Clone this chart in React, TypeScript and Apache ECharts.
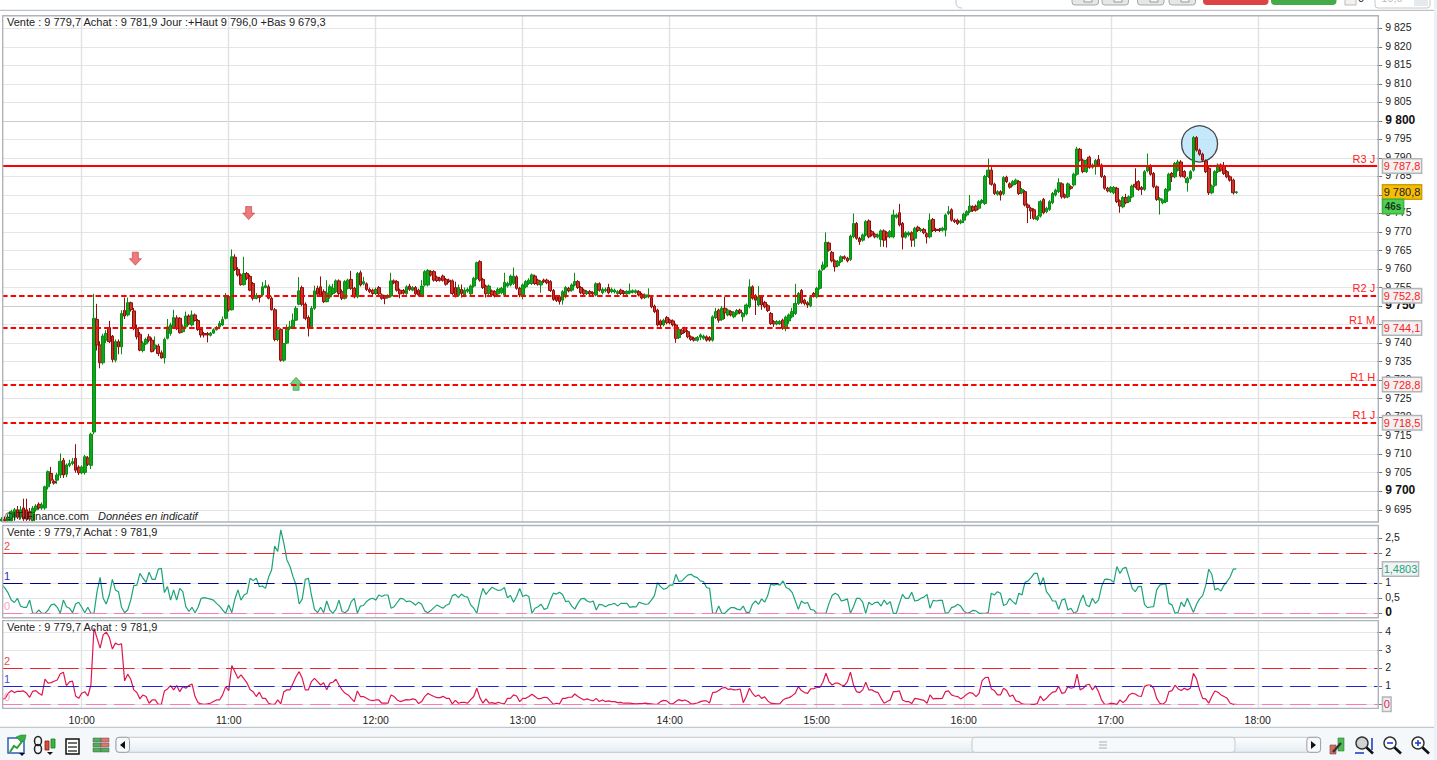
import React, { useEffect, useRef } from "react";
import * as echarts from "echarts";

// [open, close, low, high]
const candlesBefore10 = [
[9692,9692.5,9691.8,9693],[9692.5,9692,9691.8,9693.2],[9692,9693,9691.8,9693.5],[9692,9694.5,9691.8,9695],[9693,9695,9692,9695.5],[9695,9693,9692.5,9696],[9693,9695,9692.5,9696],[9695.5,9692.5,9692,9698],[9695,9692.5,9692,9698],[9694.5,9692.5,9692,9695.5],
[9692,9695.4,9691.8,9696],[9695,9696,9694.5,9696.5],[9696.5,9695.5,9695,9697],[9695.5,9696.3,9695,9697],[9695.5,9701.2,9695,9701.5],[9701.2,9705.3,9700.5,9705.6],[9704.8,9703,9702,9706.6],[9702.7,9702.2,9701.8,9703.2],[9703,9704.4,9702,9705],[9704.4,9708.1,9703.6,9710.2],
[9708.4,9704.4,9703.6,9709],[9704.6,9707.1,9703.8,9707.5],[9707,9707.5,9706.5,9708.5],[9707.5,9708,9707,9709],[9708.9,9705.7,9705,9712.7],[9706.5,9705,9704.4,9707],
];
const candles10h = [
[9705,9706.5,9704.6,9707],[9705.1,9709.3,9704.5,9709.8],[9709,9707.3,9706.8,9709.5],[9707,9715.4,9706,9715.8],[9716,9746.7,9715.4,9753.3],[9746.4,9739.5,9738,9750.6],[9739.5,9734.7,9733.2,9740.5],[9734.7,9741.9,9734.2,9742.5],[9740.8,9742.6,9740,9743.5],[9744.2,9740.4,9740,9746],
[9741.9,9735.6,9734.8,9742.2],[9735.4,9740.4,9734.8,9741],[9740.4,9739,9737,9741],[9739,9748,9737,9748.9],[9748.8,9747.3,9746.5,9752.3],[9747.6,9750.9,9747.2,9752.3],[9750.9,9749,9748.5,9751.2],[9748.7,9744,9743.5,9749.5],[9744,9741.7,9741,9745],[9742.4,9738.1,9737.8,9743],
[9738,9740,9737.5,9740.5],[9739.8,9741,9739.5,9741.5],[9741.7,9740.8,9740.2,9742.5],[9740.8,9737.7,9737.5,9741.5],[9738.5,9739.5,9738,9741.8],[9739.2,9737.2,9736.5,9739.8],[9737.4,9736,9735.8,9738],[9736,9741,9734.5,9741.5],[9741.3,9744.4,9741,9746.5],[9742.6,9744.9,9742,9745.5],
[9744.2,9746.9,9743.8,9749],[9746.8,9743.9,9743.5,9747.5],[9746.7,9742.8,9742.6,9747],[9743.1,9744.4,9742.8,9745],[9744.4,9747.3,9744,9748.5],[9747.3,9745.2,9744.8,9747.8],[9744.9,9747.6,9744.5,9748.8],[9747.6,9746.1,9745.8,9748],[9746.1,9743.7,9743.3,9746.5],[9743.7,9742.2,9741.5,9744],
[9742.6,9742.2,9741.5,9743],[9742.6,9742.2,9740.2,9743],[9742.1,9742.7,9741.8,9743],[9742.7,9743.6,9742.5,9744],[9743.6,9744.2,9743.4,9744.6],[9744.4,9745.3,9744.2,9746],[9744.9,9746.4,9744.6,9747.2],[9746.7,9752.5,9746.4,9753.5],
];
const candles11h = [
[9752.5,9749,9748.5,9753],[9749,9763.3,9748.8,9765.3],[9763.2,9759.9,9759.5,9764],[9759.9,9758.4,9758,9760.5],[9758.4,9755.8,9755.5,9758.8],[9755.8,9758.8,9755.5,9763.3],[9758.8,9757.5,9757,9759.2],[9758,9754.3,9754,9758.5],[9756.1,9752.1,9751.5,9756.5],[9752.1,9752.8,9751.8,9753.5],
[9752.5,9752.3,9751,9753],[9753,9755.2,9752.8,9756.5],[9755,9755.5,9754.8,9757],[9755.2,9752.1,9751.8,9755.8],[9752.1,9749,9748.8,9752.6],[9749,9741,9740.5,9749.5],[9741,9743.5,9740.5,9744],[9743.7,9735.4,9735,9744],[9735.4,9739.9,9735,9740],[9740,9744,9739.8,9745],
[9744,9744.4,9743.5,9746],[9744,9746.2,9743.8,9748],[9746.2,9749.4,9746,9750],[9750.5,9754.1,9750.2,9757.8],[9755,9750.5,9750,9755.5],[9750.5,9746.7,9746.2,9751],[9746.9,9744,9741.8,9747.5],[9744,9749.4,9743.8,9750],[9749.4,9754.1,9749,9755.5],[9754.8,9753.2,9752.8,9755.5],
[9755.2,9753,9752.8,9758],[9753.9,9751.2,9750.8,9754.5],[9751.2,9753.5,9751,9757],[9752.5,9755.2,9752,9755.8],[9753.4,9754.8,9753,9756],[9753.9,9756.8,9753.5,9757.2],[9756.8,9753.4,9753,9757.2],[9753.9,9752.1,9751.6,9754.5],[9752.1,9756.6,9751.8,9757],[9754.8,9757,9754.5,9757.4],
[9757.2,9754.8,9754.4,9759.5],[9754.8,9752.5,9752.1,9755.2],[9752.5,9758.8,9752.1,9759.2],[9759,9755.7,9755.3,9759.6],[9756,9756.6,9755.6,9757.9],[9756,9754.5,9754.1,9756.4],[9754.5,9753.9,9753.5,9755],[9754.3,9753.4,9753,9754.7],
];
const candles12h = [
[9753.4,9754.5,9753,9755],[9755,9753.3,9752.9,9755.4],[9753,9752.1,9751.7,9753.4],[9752.7,9752.1,9750.5,9753],[9752.3,9752.8,9752,9753.2],[9752.7,9756.8,9752.3,9759],[9756.8,9756.3,9755.9,9757.2],[9756.6,9754.3,9753.9,9757],[9754.3,9753.3,9752.1,9754.7],[9754.2,9753.5,9753.1,9754.6],
[9753.4,9755.2,9753,9755.6],[9755.4,9754.5,9754.1,9756],[9754.3,9755,9754,9755.4],[9755,9753.3,9752.9,9755.4],[9754.3,9753,9752.6,9754.7],[9753,9755.4,9752.6,9757],[9755.7,9759.3,9755.3,9759.7],[9755.7,9759.6,9755.3,9760],[9759.3,9758.4,9758,9759.7],[9759.3,9757,9756.6,9759.7],
[9757.8,9756.9,9756.5,9758.2],[9757.5,9757,9756.6,9757.9],[9758.1,9757,9756.6,9758.5],[9757.2,9755.9,9755.5,9757.6],[9757,9756.6,9756.2,9757.4],[9756.8,9753.4,9753,9757.2],[9755,9752.7,9752.3,9756.6],[9752.9,9755,9752.5,9755.8],[9754.5,9753.4,9752.3,9755.8],[9753,9754.3,9752.4,9755],
[9754,9754.5,9753.6,9755],[9753.3,9755.4,9752.9,9755.8],[9755.4,9757.5,9755,9757.9],[9757.5,9761.7,9757.1,9762],[9762,9757,9756.6,9762.4],[9757.2,9755,9754.6,9757.6],[9755.4,9753.3,9752.3,9755.8],[9753.4,9755.4,9753,9755.8],[9754.1,9753,9752.6,9754.5],[9753.9,9752.7,9752.3,9754.3],
[9753.3,9754.5,9752.9,9755],[9753.6,9754.8,9753.2,9755.2],[9753,9756.4,9752.6,9759],[9755.4,9756.1,9755,9756.6],[9755.7,9758.1,9755.3,9758.5],[9756.1,9758.1,9755.7,9760.4],[9757.9,9754.8,9754.4,9758.3],[9754.8,9753,9752.4,9755.2],
];
const candles13h = [
[9753,9755.7,9751.8,9756.1],[9755.2,9756.6,9754.8,9757],[9756.1,9757,9755.7,9757.5],[9756.1,9758.4,9755.7,9758.8],[9758.1,9756.1,9755.7,9758.5],[9757,9755.9,9755.5,9757.4],[9755.7,9756.6,9753.6,9757],[9757,9756.6,9756.2,9757.4],[9757,9756.3,9755.9,9757.4],[9756.6,9754.2,9753.8,9757],
[9754.2,9751.8,9751.4,9754.6],[9752.5,9751.5,9751.1,9752.9],[9752.5,9751.2,9750.4,9752.9],[9751.6,9753.9,9750.4,9754.3],[9752.5,9755,9752.1,9755.4],[9754.8,9754.1,9753.7,9755.2],[9754.3,9755.7,9753.9,9756.1],[9755.7,9756.6,9755.3,9759],[9756.6,9755,9754.6,9757],[9755,9753.6,9753.2,9755.4],
[9754.3,9753.3,9752.9,9754.7],[9753.4,9753.9,9753,9754.3],[9753.9,9753.3,9752.9,9754.3],[9753.6,9753.3,9752.9,9754],[9753,9756,9752.6,9756.4],[9756,9754.3,9753.9,9756.4],[9753.6,9754.5,9753.2,9755],[9754.1,9754.5,9753.7,9755],[9755,9753.6,9753.2,9756],[9753.9,9754.5,9753.5,9755],
[9753.8,9754.3,9753.4,9754.7],[9753.4,9753.9,9753,9754.3],[9754.3,9753.4,9753,9754.7],[9753.9,9753.4,9753,9754.3],[9753.3,9753.9,9752.9,9754.3],[9753.6,9754.1,9753.2,9756.1],[9753.8,9754.1,9753.4,9754.5],[9753.7,9754.1,9753.3,9754.5],[9753.9,9753,9752.6,9754.3],[9753.2,9752.2,9751.8,9753.6],
[9752.3,9753,9751.9,9753.4],[9752.5,9753,9752.1,9754.8],[9752.3,9749.8,9749.4,9752.7],[9750,9748.5,9748.1,9750.4],[9748.9,9744.9,9744.5,9749.3],[9746,9744.9,9743.8,9746.4],[9744.9,9746.2,9744.5,9746.6],[9746.9,9745.5,9745.1,9747.3],
];
const candles14h = [
[9746.2,9745.5,9745.1,9746.6],[9746,9744.9,9744.5,9746.4],[9744.9,9741.3,9740.1,9745.3],[9741.5,9743.7,9741.1,9744.1],[9743.5,9742.6,9742.2,9743.9],[9744,9743.1,9742.7,9744.4],[9743.1,9741.7,9741.3,9743.5],[9741.7,9741,9740.6,9742.1],[9741.3,9740.8,9740.4,9741.7],[9740.8,9741.5,9740.4,9741.9],
[9741.6,9742.2,9740.8,9742.6],[9741.3,9741.9,9740.9,9742.3],[9741.7,9740.8,9740.4,9742.1],[9741.5,9740.8,9740.4,9741.9],[9740.8,9747.1,9740.4,9747.5],[9746.9,9748.5,9746.5,9749.5],[9748.9,9746.2,9745.5,9749.3],[9746.4,9749.4,9746,9750],[9749.4,9748.2,9746.5,9752.5],[9747.6,9748.9,9747.2,9749.3],
[9748.5,9747.6,9747.2,9748.9],[9747.1,9748.2,9746.7,9748.6],[9747.9,9748.8,9747.5,9749.2],[9748.9,9748.2,9747.8,9749.3],[9747.1,9748,9745.8,9748.4],[9747.9,9750.3,9747.5,9750.7],[9749.8,9755.2,9749.4,9757.2],[9755.2,9752.1,9751.7,9755.6],[9752.8,9751.6,9747.6,9753.2],[9750.3,9752.5,9749.9,9755.4],
[9752.5,9750.3,9749,9752.9],[9751,9749.8,9749.4,9751.4],[9750.1,9748.8,9748.4,9750.5],[9748,9745.3,9744.9,9748.4],[9745.8,9745.2,9744.4,9746.2],[9745.2,9745.8,9744.8,9746.2],[9745.3,9745.8,9744.9,9746.2],[9746.2,9744,9743.6,9746.6],[9744.2,9747,9743.2,9747.4],[9746,9747.6,9745.2,9748],
[9747.1,9748.5,9746.7,9749.5],[9748,9750.7,9747.6,9756],[9750.7,9753.4,9750.3,9753.8],[9754.2,9750.9,9750.5,9754.6],[9751.6,9750.7,9750.2,9752],[9750.9,9750.3,9749.5,9751.3],[9750.1,9752.4,9749.7,9752.8],[9753.4,9752.7,9752.3,9753.8],
];
const candles15h = [
[9752.5,9754.8,9752.1,9755.2],[9754.8,9759.5,9754.4,9759.9],[9759.9,9761.1,9759.5,9762],[9760.6,9767.2,9760.2,9769.9],[9767,9765.1,9764.7,9767.4],[9764.5,9762.2,9761.8,9764.9],[9762.2,9760.6,9759.3,9762.6],[9760.9,9762,9760.5,9762.4],[9762,9763.3,9761.6,9763.7],[9763.3,9762.9,9762.5,9763.7],
[9762.9,9762.2,9761.8,9763.3],[9762.6,9768.9,9762.2,9769.3],[9768.7,9772.3,9768.3,9775],[9772.3,9768.3,9767.9,9772.7],[9768.3,9767.4,9766.5,9768.7],[9767.8,9769.2,9767.4,9769.6],[9769.2,9772.8,9768.8,9773.2],[9773,9768.7,9768.3,9773.4],[9770.1,9769.2,9768.8,9770.5],[9769.4,9768.7,9768.3,9769.8],
[9768.7,9769.2,9768.3,9769.6],[9768,9770.3,9766,9770.7],[9770.3,9767.8,9766,9770.7],[9769.8,9768.7,9765.8,9770.2],[9768.7,9770.1,9768.3,9770.5],[9768.7,9774.6,9768.3,9776],[9774,9774.6,9773.6,9775],[9775.2,9771.9,9771.5,9777.6],[9772.3,9768.6,9765.3,9772.7],[9768.6,9769.8,9768.2,9770.2],
[9769.2,9769.8,9768.8,9770.2],[9769.8,9767.8,9766,9770.2],[9768.3,9771,9766,9771.4],[9771.3,9770.4,9770,9771.7],[9770.4,9770.7,9770,9771.1],[9770.7,9769.8,9769.4,9771.1],[9769.5,9768.7,9766.9,9769.9],[9768.7,9773.2,9768.3,9775],[9773.4,9770.4,9770,9773.8],[9770.7,9770.4,9770,9771.1],
[9770.7,9770.4,9770,9771.1],[9770.5,9771,9770.1,9771.4],[9770.5,9774.6,9768.8,9775],[9775,9775.5,9774.6,9777],[9776,9773.2,9772.8,9776.4],[9773.2,9772.8,9772.4,9773.6],[9773.2,9772.3,9771.9,9773.6],[9772.5,9773,9772.1,9773.4],
];
const candles16h = [
[9773.2,9774.8,9772.4,9775.2],[9774.6,9775.5,9774.2,9775.9],[9775.5,9777,9775.1,9780],[9776.8,9775.8,9775.4,9777.2],[9777,9775.9,9775.5,9777.4],[9776.4,9778.2,9776,9778.6],[9778,9778.5,9777.6,9778.9],[9777.7,9785,9777.3,9785.4],[9785,9786.7,9784.6,9789.8],[9786.7,9782.9,9782.5,9787.5],
[9782.9,9780.4,9780,9783.3],[9780.2,9780.9,9779.8,9781.3],[9780.9,9780,9778.5,9781.3],[9780.3,9784.7,9779.9,9785.1],[9784.8,9783.6,9783.2,9785.2],[9783,9782.1,9781.7,9783.4],[9782.7,9783.6,9782.3,9784],[9783.1,9784,9782.7,9784.4],[9783.6,9780.4,9780,9784],[9780.6,9781.5,9780.2,9781.9],
[9780.9,9777.3,9776.9,9781.3],[9777.3,9776.6,9772.4,9777.7],[9776.4,9775.7,9773.5,9776.8],[9776,9773.7,9773.3,9776.4],[9773.4,9774.1,9773,9774.5],[9774.3,9778.2,9773.9,9778.6],[9778.8,9775.2,9774.8,9779.2],[9775.5,9776.4,9775.1,9776.8],[9776.1,9778.2,9775.7,9778.6],[9777.9,9780.4,9777.5,9780.8],
[9780,9781.3,9779.6,9781.7],[9780.9,9783.3,9780.5,9784.5],[9783,9779.5,9779,9783.4],[9780,9779.4,9779,9780.4],[9779.5,9783,9779.1,9783.4],[9782.2,9781.8,9781.4,9782.6],[9782.7,9785.6,9782.3,9786],[9785.6,9792.4,9785.2,9793],[9792.3,9789.4,9789,9792.7],[9789.4,9786.3,9785.9,9789.8],
[9786.3,9789.3,9785.9,9789.7],[9790.2,9787.5,9787.1,9790.6],[9787.5,9788.1,9787.1,9788.5],[9787.8,9789.3,9785.5,9789.7],[9789.6,9788.1,9787.7,9790.8],[9788.1,9785,9784.6,9788.5],[9785,9781.8,9781.4,9785.4],[9781.8,9781.1,9780.7,9782.2],
];
const candles17h = [
[9780.9,9782,9780.5,9782.4],[9780.6,9782,9780.2,9782.4],[9781.8,9778.2,9777.8,9782.2],[9778.4,9777,9775.2,9778.8],[9776.8,9779.3,9776.4,9779.7],[9779.3,9777.9,9777.5,9780.3],[9778.2,9779.5,9777.8,9779.9],[9779.5,9782.4,9779.1,9782.8],[9782.9,9782.2,9781.8,9787.2],[9783.6,9781.5,9781.1,9784],
[9782,9781.5,9780,9782.4],[9781.5,9786.3,9781.1,9786.7],[9786.5,9787.9,9786.1,9791.2],[9787.9,9785.6,9785.2,9788.3],[9785.8,9782.2,9781.8,9786.2],[9782.2,9778.8,9778.4,9782.6],[9778.6,9779,9774.7,9779.4],[9777.9,9778.6,9777.5,9779],[9778.2,9781.5,9777.8,9781.9],[9781.3,9785.6,9780.9,9786],
[9785.8,9784.9,9783.5,9786.2],[9784.9,9788.5,9784.5,9788.9],[9786.7,9788.9,9786.3,9789.5],[9788.9,9785.1,9784.7,9789.4],[9786.3,9784.9,9784.5,9786.7],[9783.3,9784.5,9780.9,9784.9],[9784.5,9786.3,9784.1,9786.7],[9786.7,9795.5,9786.3,9795.9],[9795.5,9792.1,9791.7,9795.9],[9792.1,9791,9790.6,9792.5],
[9791,9789.4,9789,9791.4],[9789.2,9786.3,9785.9,9789.6],[9787.2,9780.6,9780,9787.6],[9780.6,9782.4,9780.2,9782.8],[9782.6,9786.3,9782.2,9786.7],[9786.3,9788.1,9785.9,9788.5],[9788.1,9786.7,9786.3,9788.5],[9787.9,9785.8,9785.4,9788.9],[9786.3,9784.9,9784.5,9786.7],[9784.9,9784,9783.6,9785.3],
[9784,9780.6,9780.1,9784.4],[9780.7,9780.8,9780.3,9781],
];

const greenIndicator = [
.94,.83,.67,.44,.36,.5,.24,.2,.2,.44,0,0,.11,0,0,.11,.28,.31,.2,0,.44,.22,.17,.02,.31,.37,.2,.02,.2,0,0,.72,1.2,.5,.31,.61,1.13,.78,.72,.2,.02,.11,.44,.92,.94,1.33,1.17,1.03,1.37,1.13,
1.13,1.47,1.5,.69,.89,.44,.78,.44,.83,.72,.22,.06,.2,.02,.2,.5,.52,.5,.47,.44,.33,.24,.11,0,.28,.02,.47,.78,.44,.61,.67,1.17,1.09,1.17,.89,.91,.83,1.2,1.44,2.24,2.06,2.78,2.33,1.78,1.56,1.22,.94,.31,.47,1.13,
1.17,.61,.13,.02,.2,.02,.41,.11,0,.13,.44,.06,.02,.11,.39,.5,0,.24,.26,.39,.47,.5,.44,.61,.56,.61,.61,.17,.22,.36,.5,.48,.39,.41,.36,.27,.37,.3,.08,.02,.09,.19,.28,.22,.17,.27,.31,.59,.63,.52,
.64,.56,.54,.28,.17,0,.48,.83,.63,.76,.87,.81,.76,.78,.86,.52,.59,.37,.56,.83,.56,.61,.56,0,.17,.22,.3,.13,.17,.44,.67,.64,.7,.63,.39,.41,.24,.14,.33,.48,.5,.41,.37,.41,.11,.3,.28,.22,.28,.3,
.33,.24,.33,.33,.33,.2,.22,.21,.37,.33,.3,.31,.44,.59,1.02,.89,.8,.83,.94,.94,1.3,1.06,1.08,1.19,1.28,1.3,1.22,1.19,1.08,1.06,.86,.83,0,0,.24,0,0,.11,.19,.19,.14,.11,.24,.03,.03,.3,.41,.3,.48,.37,
.59,.97,.94,.97,.94,1.08,.86,.81,.69,.41,.13,.41,.33,.36,.13,.11,0,0,0,0,.33,.59,.67,.61,.41,.44,.48,0,.22,.5,.5,.37,0,.37,.28,.36,.37,.24,.44,.3,.39,0,0,.33,.63,.5,.5,.7,.41,.43,.5,.54,
.63,.17,.43,.41,.43,.43,0,.02,.19,.22,.3,.24,.08,0,.03,.1,.08,0,0,0,.02,.67,.61,.72,.67,.26,.31,.5,.39,.3,.67,.61,1.03,1.08,1.19,1.33,1.33,.94,1.19,.72,.59,.41,.41,.13,.44,.48,.11,.17,0,.06,.39,.61,.28,.22,.5,.33,
.44,.89,1.13,1.14,1.11,1.03,1.56,1.33,1.5,1.53,1.19,.83,.72,.89,.9,.3,.19,.21,.22,.78,.94,.97,.97,.33,.28,0,.03,.37,.22,.5,.26,.03,.3,.48,.59,.92,1.47,1.3,.78,.83,.74,.94,1.06,1.22,1.47,1.48,
];
const crimsonIndicator = [
.28,.33,.61,.76,.65,.72,.72,.74,.61,.39,.72,.76,.61,.5,1.39,1.17,1.2,1.28,1.35,1.69,1.78,1.04,1.24,1.28,.46,.33,.61,.7,.46,1.07,4.22,3.67,3.11,3.85,4,3.72,3.06,3.39,3.3,3.35,1.3,1.67,1.39,.8,.65,.3,.52,.43,.06,.24,
.24,0,0,.74,.85,1.04,.8,1.04,.7,.98,.89,1.04,1.13,.43,.09,.02,0,.02,.06,.15,.24,.24,.52,.98,.76,2.15,1.81,1.44,1.63,1.41,1.17,.8,.69,.43,.67,.33,.33,.06,0,0,.24,.02,.7,.8,.8,1.17,1.54,1.81,1.44,.8,
.8,1.26,1.44,1.26,1.07,1.2,.8,1.17,1.22,1.39,1.07,.8,.61,.52,.33,.15,.74,.43,.43,.33,.24,.2,.24,.24,.06,.06,.06,.52,.43,.24,.15,.2,.26,.24,.3,.26,.04,.15,.43,.61,.52,.43,.37,.37,.44,.33,.33,.02,.22,.06,
.11,.11,.06,.26,.43,.89,.37,.06,.3,.06,.09,.04,.11,.06,.02,.33,.33,.52,.46,.15,.33,.33,.43,.56,.43,.3,.33,.39,.37,.19,0,.06,.02,.33,.33,.39,.39,.57,.43,.33,.24,.3,.24,.19,.33,.15,.24,.15,.19,.15,
.15,.09,.11,.06,.06,.06,.04,.02,.04,.04,.06,.04,.02,0,0,.15,.22,.19,.04,.02,.15,.26,.19,.24,.15,.02,.04,.07,.15,.19,.19,.07,.65,.67,.76,.89,.94,.83,.85,.8,.81,.85,.09,.43,.89,.61,.43,.52,.33,.41,
.19,.06,.04,.02,.04,.24,.33,.37,.48,.61,.98,.76,.65,.61,.85,.87,.93,.93,1.22,1.72,1.26,1.07,1.17,1.17,1.07,1.04,1.26,1.78,1.07,.7,.65,.8,1.22,.8,.8,.7,.65,.33,.06,.15,.24,.7,.7,.74,.24,.15,.15,.04,.33,.3,.26,.22,
.06,.52,.3,.33,.31,.33,.7,.74,.52,.46,.43,.3,.41,.56,.65,.61,.43,.61,1.31,1.48,1.5,.85,.76,.52,.52,.89,.76,.43,.52,.19,.15,.02,0,0,0,0,.04,.46,.2,.33,.52,.67,.7,1,.61,.65,.98,.89,.93,1.67,.8,.89,1.07,1.11,
.8,1.02,.7,.24,0,0,.06,.04,0,.24,.09,.24,.52,.61,.57,.46,.44,.98,1.07,1.07,.89,.33,.06,0,.15,.7,.76,1.06,.85,.76,.89,.8,.89,1.72,1.41,.8,.33,.3,.06,.43,.74,.67,.52,.43,.33,.06,0,0,
];

const hourLabels = ["10:00", "11:00", "12:00", "13:00", "14:00", "15:00", "16:00", "17:00", "18:00"];
const slotsPerHour = 48;
const firstHourSlot = 26;
const slotCount = 450;

const priceTicks = [9695,9700,9705,9710,9715,9720,9725,9730,9735,9740,9745,9750,9755,9760,9765,9770,9775,9780,9785,9790,9795,9800,9805,9810,9815,9820,9825];
const greenTicks = [0, 0.5, 1, 1.5, 2, 2.5];
const crimsonTicks = [0, 1, 2, 3, 4];

const levelValues = [9787.8, 9752.8, 9744.1, 9728.8, 9718.5];
const levelNames = ["R3 J", "R2 J", "R1 M", "R1 H", "R1 J"];
const levelTags = ["9 787,8", "9 752,8", "9 744,1", "9 728,8", "9 718,5"];

const lastPrice = 9780.8;
const lastPriceTag = "9 780,8";
const timerValue = 9776.9;
const timerTag = "46s";

const downArrows = [[44, 9762.8], [81, 9775.1]];
const upArrows = [[96, 9729]];
const highlight = [[391, 9793.8]];

const thresholdValues = [2, 1, 0];
const thresholdLabels = ["2", "1", "0"];
const greenLast = 1.4803;
const greenLastTag = "1,4803";
const crimsonLast = 0;
const crimsonLastTag = "0";

const headerMain = "Vente : 9 779,7 Achat : 9 781,9 Jour :+Haut 9 796,0 +Bas 9 679,3";
const headerIndicator = "Vente : 9 779,7 Achat : 9 781,9";
const creditText = "©IT-Finance.com";
const creditNote = "Données en indicatif";

const FONT = "'Liberation Sans', Arial, sans-serif";
const LEFT = 2.1;
const WIDTH = 1375.1;
const HIDDEN_LINE = { color: "rgba(0,0,0,0)", width: 0 };

const fmtPrice = (v: number) => {
  const s = String(Math.round(v));
  return `${s.slice(0, 1)} ${s.slice(1)}`;
};

const isHour = (i: number) => i >= firstHourSlot && (i - firstHourSlot) % slotsPerHour === 0;
const hourOf = (i: number) => hourLabels[(i - firstHourSlot) / slotsPerHour] ?? "";

function tagLabel(text: string, color: string, bg: string, border: string, extra: any = {}) {
  return {
    show: true, position: "end", distance: 6, formatter: text, color,
    backgroundColor: bg, borderColor: border, borderWidth: 1.5, padding: [1, 0.5, 0, 0.5],
    fontFamily: FONT, fontSize: 11, lineHeight: 12, ...extra,
  };
}

function xAxis(gridIndex: number, categories: string[], showLabel: boolean) {
  return {
    type: "category", gridIndex, data: categories, boundaryGap: false,
    axisLine: { show: false }, axisTick: { show: false },
    axisLabel: {
      show: showLabel, interval: (i: number) => isHour(i),
      formatter: (_: string, i: number) => hourOf(i),
      color: "#222", fontFamily: FONT, fontSize: 10.5, margin: 6,
    },
    splitLine: { show: true, interval: (i: number) => isHour(i), lineStyle: { color: "#e1e2e4", width: 1.4 } },
  };
}

function yAxis(gridIndex: number, min: number, max: number, ticks: number[], fmt: (v: number) => string, shownLabels: number[], colors: any) {
  return {
    type: "value", gridIndex, position: "right", min, max,
    axisLine: { show: false },
    axisTick: { show: true, length: 5, customValues: ticks, lineStyle: { color: "#777" } },
    axisLabel: {
      show: true, customValues: shownLabels, formatter: fmt, margin: 8, color: "#222",
      fontFamily: FONT, fontSize: 10.5, padding: [0, 0, 2, 0],
      rich: { b: { fontFamily: FONT, fontSize: 12, fontWeight: "bold", color: "#111" } },
    },
    splitLine: { show: true, lineStyle: { color: colors, width: 1 } },
  };
}

function thresholdLines(colors: string[], labelColors: string[], tagLine: any) {
  const lines: any[] = thresholdValues.map((v, k) => ({
    yAxis: v,
    lineStyle: { color: colors[k], type: [20.5, 7.5], width: 1.2 },
    label: {
      show: true, position: "insideStartTop", distance: 2, formatter: thresholdLabels[k],
      color: labelColors[k], fontFamily: FONT, fontSize: 11,
    },
  }));
  lines.push(tagLine);
  return lines;
}

function toolbarIcons(): any[] {
  const icons: any[] = [];
  const s = (g: any) => icons.push({ silent: true, z: 30, ...g });
  // chart icon
  s({ type: "rect", shape: { x: 8, y: 738, width: 16, height: 15 }, style: { fill: "#fff", stroke: "#2f5fb0", lineWidth: 1.5 } });
  s({ type: "polyline", shape: { points: [[10, 752], [14, 746], [17, 748], [24, 739]] }, style: { stroke: "#2aa035", fill: "none", lineWidth: 2 } });
  s({ type: "polygon", shape: { points: [[16, 737], [21, 742], [25, 740], [26, 735], [21, 735]] }, style: { fill: "#35b043", stroke: "#1f8a2d", lineWidth: 0.6 } });
  s({ type: "polygon", shape: { points: [[19, 753], [25, 753], [22, 756]] }, style: { fill: "#111" } });
  // chain and candles
  s({ type: "ellipse", shape: { cx: 38, cy: 741, rx: 3.5, ry: 4.5 }, style: { fill: "none", stroke: "#222", lineWidth: 1.5 } });
  s({ type: "ellipse", shape: { cx: 38, cy: 749, rx: 3.5, ry: 4.5 }, style: { fill: "none", stroke: "#222", lineWidth: 1.5 } });
  s({ type: "rect", shape: { x: 45, y: 741, width: 4, height: 9 }, style: { fill: "#d84c3c", stroke: "#8c1a10", lineWidth: 0.8 } });
  s({ type: "rect", shape: { x: 51, y: 739, width: 4, height: 9 }, style: { fill: "#36b83f", stroke: "#177a20", lineWidth: 0.8 } });
  s({ type: "polygon", shape: { points: [[47, 752], [53, 752], [50, 755]] }, style: { fill: "#111" } });
  // list icon
  s({ type: "rect", shape: { x: 66, y: 739, width: 13, height: 15 }, style: { fill: "#fff", stroke: "#111", lineWidth: 1.5 } });
  s({ type: "line", shape: { x1: 68, y1: 743, x2: 77, y2: 743 }, style: { stroke: "#111", lineWidth: 1.2 } });
  s({ type: "line", shape: { x1: 68, y1: 747, x2: 77, y2: 747 }, style: { stroke: "#111", lineWidth: 1.2 } });
  s({ type: "line", shape: { x1: 68, y1: 751, x2: 77, y2: 751 }, style: { stroke: "#111", lineWidth: 1.2 } });
  // bricks icon
  [[93, 738, "#4fae57"], [93, 743, "#4fae57"], [93, 748, "#4fae57"], [101, 738, "#e0746c"], [101, 743, "#e0746c"], [101, 748, "#4fae57"]].forEach(([x, y, c]: any) =>
    s({ type: "rect", shape: { x, y, width: 8, height: 4 }, style: { fill: c, stroke: "#555", lineWidth: 0.5 } }));
  // wrench
  s({ type: "rect", shape: { x: 1330, y: 745, width: 6, height: 9 }, style: { fill: "#e0655c", stroke: "#555", lineWidth: 0.6 } });
  s({ type: "rect", shape: { x: 1338, y: 738, width: 6, height: 13 }, style: { fill: "#4dbb55", stroke: "#2a7a30", lineWidth: 0.6 } });
  s({ type: "line", shape: { x1: 1333, y1: 752, x2: 1341, y2: 743 }, style: { stroke: "#333", lineWidth: 2.4 } });
  // magnifiers
  const glass = (cx: number, fill: string) => {
    s({ type: "circle", shape: { cx, cy: 743, r: 6 }, style: { fill, stroke: "#333", lineWidth: 1.4 } });
    s({ type: "line", shape: { x1: cx + 4.5, y1: 747.5, x2: cx + 11, y2: 753.5 }, style: { stroke: "#111", lineWidth: 2.6 } });
  };
  glass(1362, "#cfd3d6");
  glass(1390, "#fff");
  glass(1418, "#fff");
  s({ type: "line", shape: { x1: 1387, y1: 743, x2: 1393, y2: 743 }, style: { stroke: "#1d3fd0", lineWidth: 1.6 } });
  s({ type: "line", shape: { x1: 1415, y1: 743, x2: 1421, y2: 743 }, style: { stroke: "#1d3fd0", lineWidth: 1.6 } });
  s({ type: "line", shape: { x1: 1418, y1: 740, x2: 1418, y2: 746 }, style: { stroke: "#1d3fd0", lineWidth: 1.6 } });
  s({ type: "line", shape: { x1: 1355, y1: 753, x2: 1364, y2: 753 }, style: { stroke: "#1d3fd0", lineWidth: 1.6 } });
  s({ type: "line", shape: { x1: 1372, y1: 738, x2: 1372, y2: 750 }, style: { stroke: "#1d3fd0", lineWidth: 1.6 } });
  return icons;
}

function chrome(): any[] {
  const el: any[] = [];
  const a = (g: any) => el.push({ silent: true, ...g });
  const panel = (y: number, h: number) =>
    a({ type: "rect", z: 20, shape: { x: 2.7, y, width: 1375.6, height: h }, style: { fill: "none", stroke: "#aeb4b9", lineWidth: 1.4 } });
  panel(15.7, 506.3);
  panel(525.5, 92.2);
  panel(620.6, 87.8);

  // strips of the window
  a({ type: "rect", z: 25, shape: { x: 1434, y: 0, width: 3, height: 760 }, style: { fill: "#e9f2f9" } });
  a({ type: "line", z: 25, shape: { x1: 0, y1: 10.4, x2: 1434, y2: 10.4 }, style: { stroke: "#bcc2c6", lineWidth: 1.2 } });
  a({ type: "rect", z: 26, shape: { x: 956, y: -8, width: 300, height: 16, r: 5 }, style: { fill: "#fff", stroke: "#c3c8cc", lineWidth: 1 } });
  a({ type: "rect", z: 27, shape: { x: 962, y: 0, width: 300, height: 10 }, style: { fill: "#fff" } });
  a({ type: "line", z: 27, shape: { x1: 962, y1: 10.4, x2: 1262, y2: 10.4 }, style: { stroke: "#bcc2c6", lineWidth: 1.2 } });
  [1072, 1102, 1137.5, 1169].forEach((x) =>
    a({ type: "rect", z: 28, shape: { x, y: -8, width: 26.5, height: 13, r: 3 }, style: { fill: "#e6e6e6", stroke: "#a8a8a8", lineWidth: 1 } }));
  [1084, 1114, 1150, 1181].forEach((x) =>
    a({ type: "rect", z: 29, shape: { x, y: -4, width: 8, height: 6 }, style: { fill: "#f5f5f5", stroke: "#888", lineWidth: 0.8 } }));
  a({ type: "rect", z: 28, shape: { x: 1203, y: -8, width: 65.5, height: 13, r: 4 }, style: { fill: "#dc4444" } });
  a({ type: "rect", z: 28, shape: { x: 1271, y: -8, width: 65.5, height: 13, r: 4 }, style: { fill: "#45aa4a" } });
  a({ type: "rect", z: 28, shape: { x: 1345, y: -6, width: 11, height: 11 }, style: { fill: "#f2f2f2", stroke: "#bbb", lineWidth: 1 } });
  a({ type: "rect", z: 28, shape: { x: 1375, y: -10, width: 55, height: 18, r: 3 }, style: { fill: "#fff", stroke: "#c8c8c8", lineWidth: 1 } });
  a({ type: "rect", z: 29, shape: { x: 1414, y: -2, width: 14, height: 8 }, style: { fill: "#e5eaee" } });
  a({ type: "text", z: 29, style: { x: 1361, y: -2, text: "0", fill: "#222", font: `11px ${FONT}`, align: "center", verticalAlign: "middle" } });
  a({ type: "text", z: 29, style: { x: 1392, y: -2, text: "10,0", fill: "#bbb", font: `11px ${FONT}`, align: "center", verticalAlign: "middle" } });

  // bottom bar
  a({ type: "rect", z: 25, shape: { x: 0, y: 727.4, width: 1434, height: 32.6 }, style: { fill: "#f4f8fb" } });
  a({ type: "line", z: 25, shape: { x1: 0, y1: 727.4, x2: 1434, y2: 727.4 }, style: { stroke: "#c3c8cc", lineWidth: 1.2 } });
  const grad = new echarts.graphic.LinearGradient(0, 0, 0, 1, [{ offset: 0, color: "#fdfefe" }, { offset: 1, color: "#e6edf2" }]);
  a({ type: "rect", z: 26, shape: { x: 116, y: 737.3, width: 1204.5, height: 15, r: 3 }, style: { fill: grad, stroke: "#c4c9cd", lineWidth: 1 } });
  a({ type: "rect", z: 27, shape: { x: 972, y: 737.3, width: 263, height: 15, r: 3 }, style: { fill: "#f6f9fb", stroke: "#c4c9cd", lineWidth: 1 } });
  [742, 745, 748].forEach((y) =>
    a({ type: "line", z: 28, shape: { x1: 1099, y1: y, x2: 1107, y2: y }, style: { stroke: "#a9aeb2", lineWidth: 1 } }));
  a({ type: "rect", z: 28, shape: { x: 116, y: 737.3, width: 13.5, height: 15, r: 3 }, style: { fill: "#f7f8f9", stroke: "#9a9fa3", lineWidth: 1 } });
  a({ type: "rect", z: 28, shape: { x: 1306.8, y: 737.3, width: 13.8, height: 15, r: 3 }, style: { fill: "#f7f8f9", stroke: "#9a9fa3", lineWidth: 1 } });
  a({ type: "polygon", z: 29, shape: { points: [[120, 745], [125, 741], [125, 749]] }, style: { fill: "#111" } });
  a({ type: "polygon", z: 29, shape: { points: [[1316, 745], [1311, 741], [1311, 749]] }, style: { fill: "#111" } });
  el.push(...toolbarIcons());

  // texts
  const txt = (x: number, y: number, text: string, extra = "") =>
    a({ type: "text", z: 40, style: { x, y, text, fill: "#222", font: `${extra} 11px ${FONT}`, verticalAlign: "middle" } });
  txt(7, 22, headerMain);
  txt(7, 532, headerIndicator);
  txt(7, 627, headerIndicator);
  txt(5, 516, creditText);
  txt(98, 516, creditNote, "italic");
  return el;
}

export default function App() {
  const ref = useRef<HTMLDivElement>(null);
  useEffect(() => {
    document.body.style.margin = "0";
    const chart = echarts.init(ref.current!, undefined, { renderer: "svg" });

    const candles = [
      ...candlesBefore10, ...candles10h, ...candles11h, ...candles12h,
      ...candles13h, ...candles14h, ...candles15h, ...candles16h, ...candles17h,
    ];
    const categories = Array.from({ length: slotCount }, (_, i) => String(i));

    const levelLines: any[] = [];
    levelValues.forEach((v, k) => {
      levelLines.push({
        yAxis: v,
        lineStyle: { color: "#ff0000", type: k === 0 ? "solid" : [5.5, 3], width: 2.2 },
        label: tagLabel(levelTags[k], "#ff2020", "#f1f1f1", "#b2b6b9"),
      });
      levelLines.push({
        yAxis: v,
        lineStyle: HIDDEN_LINE,
        label: {
          show: true, position: "insideEndTop", distance: 2, formatter: levelNames[k],
          color: "#ff2020", fontFamily: FONT, fontSize: 11,
        },
      });
    });
    levelLines.push({
      yAxis: lastPrice, lineStyle: HIDDEN_LINE,
      label: tagLabel(lastPriceTag, "#222", "#f6bd06", "#c9a006"),
    });
    levelLines.push({
      yAxis: timerValue, lineStyle: HIDDEN_LINE,
      label: tagLabel(timerTag, "#1a3a1a", "#4fd052", "#3db040", { fontSize: 10, fontWeight: "bold", padding: [1, 1.5, 0, 1.5] }),
    });

    const priceColors = ["#e4e5e6", "#c9cbcc", "#e4e5e6", "#e4e5e6", "#e4e5e6", "#e4e5e6", "#e4e5e6", "#e4e5e6", "#e4e5e6", "#e4e5e6"];

    chart.setOption({
      animation: false,
      backgroundColor: "#ffffff",
      graphic: { elements: chrome() },
      grid: [
        { left: LEFT, width: WIDTH, top: 15.7, height: 506.3 },
        { left: LEFT, width: WIDTH, top: 525.5, height: 92.2 },
        { left: LEFT, width: WIDTH, top: 620.6, height: 87.7 },
      ],
      xAxis: [xAxis(0, categories, false), xAxis(1, categories, false), xAxis(2, categories, true)],
      yAxis: [
        yAxis(0, 9691.7, 9828.4, priceTicks, (v) => (v % 50 === 0 ? `{b|${fmtPrice(v)}}` : fmtPrice(v)), priceTicks, priceColors),
        yAxis(1, -0.147, 2.927, greenTicks, (v) => (v === 0 ? "{b|0}" : String(v).replace(".", ",")), greenTicks, "#e4e5e6"),
        yAxis(2, -0.222, 4.64, crimsonTicks, (v) => String(v), crimsonTicks.filter((t) => t > 0), "#e4e5e6"),
      ],
      series: [
        {
          type: "scatter", name: "highlight", xAxisIndex: 0, yAxisIndex: 0, z: 1, silent: true,
          data: highlight, symbol: "circle", symbolSize: 36,
          itemStyle: { color: "#b6e3fa", borderColor: "#1c1c1c", borderWidth: 1.3 },
        },
        {
          type: "candlestick", name: "prix", xAxisIndex: 0, yAxisIndex: 0, z: 2, silent: true,
          data: candles, barWidth: 3.2,
          itemStyle: { color: "#0aa81a", color0: "#cf3527", borderColor: "#0b8a14", borderColor0: "#8e0d0d", borderWidth: 1 },
          markLine: { silent: true, symbol: ["none", "none"], animation: false, precision: 4, data: levelLines },
        },
        {
          type: "scatter", name: "vente", xAxisIndex: 0, yAxisIndex: 0, z: 3, silent: true,
          data: downArrows, symbol: "path://M3 0H9V6.5H12L6 13L0 6.5H3Z", symbolSize: [12, 13], symbolOffset: [-1.5, 0],
          itemStyle: { color: "#e9595c", borderColor: "#c53a3c", borderWidth: 0.8 },
        },
        {
          type: "scatter", name: "achat", xAxisIndex: 0, yAxisIndex: 0, z: 3, silent: true,
          data: upArrows, symbol: "path://M6 0L12 6.5H9V13H3V6.5H0Z", symbolSize: [12, 13],
          itemStyle: { color: "#4fc062", borderColor: "#2b9a3d", borderWidth: 0.8 },
        },
        {
          type: "line", name: "indicateur1", xAxisIndex: 1, yAxisIndex: 1, z: 3, silent: true,
          data: greenIndicator, symbol: "none", lineStyle: { color: "#1ca37b", width: 1.2 },
          markLine: {
            silent: true, symbol: ["none", "none"], animation: false, precision: 4,
            data: thresholdLines(["#e8262a", "#00008f", "#ff78b4"], ["#ee4a4a", "#2a2ac8", "#ff9cc6"], {
              yAxis: greenLast, lineStyle: HIDDEN_LINE,
              label: tagLabel(greenLastTag, "#18a67c", "#f2f2f2", "#b2b6b9"),
            }),
          },
        },
        {
          type: "line", name: "indicateur2", xAxisIndex: 2, yAxisIndex: 2, z: 3, silent: true,
          data: crimsonIndicator, symbol: "none", lineStyle: { color: "#df1750", width: 1.2 },
          markLine: {
            silent: true, symbol: ["none", "none"], animation: false, precision: 4,
            data: thresholdLines(["#e8262a", "#2020dd", "#ff78b4"], ["#ee4a4a", "#4a4ae0", "#ff9cc6"], {
              yAxis: crimsonLast, lineStyle: HIDDEN_LINE,
              label: tagLabel(crimsonLastTag, "#e3265a", "#eeeeee", "#b2b6b9"),
            }),
          },
        },
      ],
    });
    return () => chart.dispose();
  }, []);
  return <div ref={ref} style={{ position: "fixed", left: 0, top: 0, width: 1437, height: 760 }} />;
}
